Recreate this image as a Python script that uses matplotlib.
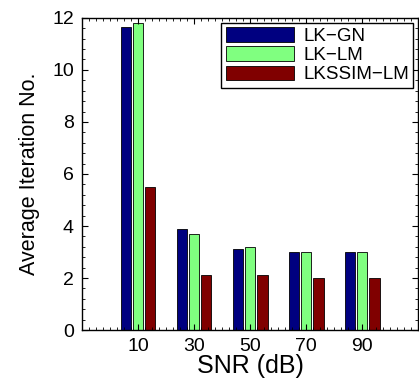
import numpy as np
import matplotlib
matplotlib.use("Agg")
import matplotlib.pyplot as plt
from matplotlib.ticker import MultipleLocator, AutoMinorLocator

# data
snr = [10, 30, 50, 70, 90]
lk_gn = [11.65, 3.9, 3.1, 3.0, 3.0]
lk_lm = [11.8, 3.7, 3.2, 3.0, 3.0]
lkssim_lm = [5.5, 2.1, 2.1, 2.0, 2.0]
labels = ['LK\u2212GN', 'LK\u2212LM', 'LKSSIM\u2212LM']
colors = ['#000080', '#80ff80', '#800000']

plt.rcParams['font.family'] = ['Liberation Sans', 'DejaVu Sans']

fig = plt.figure(figsize=(4.19, 3.79), dpi=100)
ax = fig.add_axes([0.196, 0.129, 0.802, 0.824])

x = np.array(snr, dtype=float)
w = 3.6
offs = [-4.4, 0.0, 4.4]
for vals, off, c, lab in zip([lk_gn, lk_lm, lkssim_lm], offs, colors, labels):
    ax.bar(x + off, vals, width=w, color=c, edgecolor='black', linewidth=0.6, label=lab)

ax.set_xlim(-10, 110)
ax.set_ylim(0, 12)
ax.set_xticks(snr)
ax.yaxis.set_major_locator(MultipleLocator(2))
ax.yaxis.set_minor_locator(AutoMinorLocator(5))
ax.xaxis.set_minor_locator(AutoMinorLocator(8))
ax.tick_params(which='both', direction='in', top=True, right=True, labelsize=14)
ax.tick_params(which='major', length=4, pad=6)
ax.tick_params(which='minor', length=2)
for s in ax.spines.values():
    s.set_linewidth(1.0)

ax.set_xlabel('SNR (dB)', fontsize=18, labelpad=-1)
ax.set_ylabel('Average Iteration No.', fontsize=15.5, labelpad=9)

leg = ax.legend(loc='upper right', fontsize=13.5, handlelength=3.6, handleheight=0.8,
                borderaxespad=0.25, fancybox=False, edgecolor='black', framealpha=1,
                labelspacing=0.08, borderpad=0.25, handletextpad=0.5)
leg.get_frame().set_linewidth(1.0)

fig.savefig('out.png', dpi=100)
